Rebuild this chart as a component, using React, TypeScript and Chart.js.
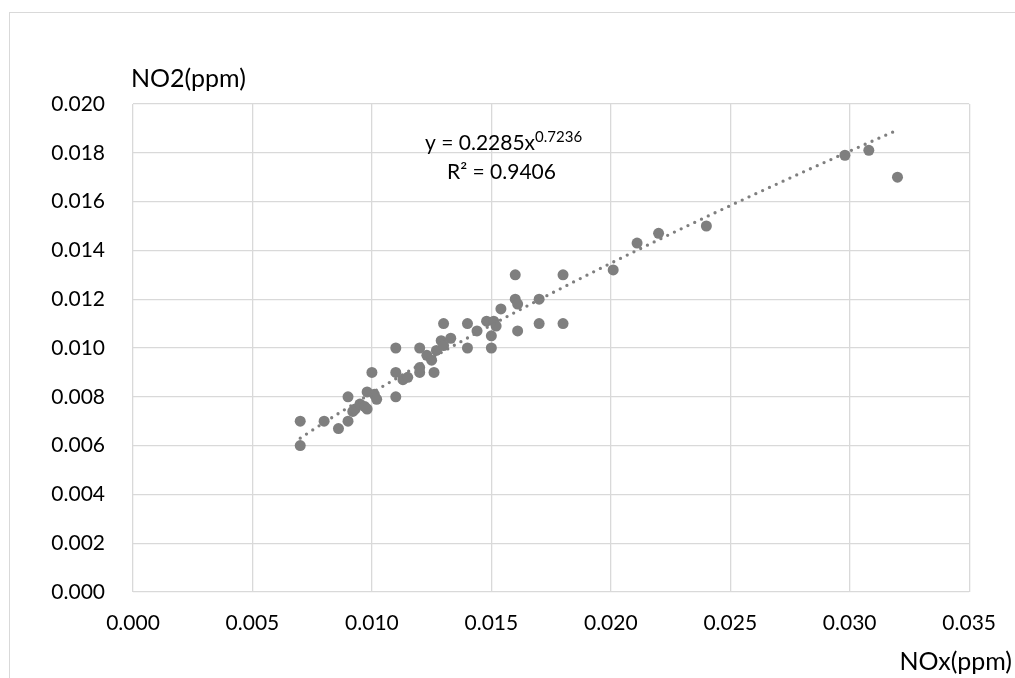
import React, { useEffect, useRef } from "react";
import { Chart, registerables } from "chart.js";

Chart.register(...registerables);

const noxValues: number[] = [
  0.007, 0.007, 0.008, 0.0086, 0.009, 0.009, 0.0092, 0.0093, 0.0095, 0.0097,
  0.0098, 0.0098, 0.010, 0.0101, 0.0102, 0.011, 0.011, 0.011, 0.0113, 0.0115,
  0.012, 0.012, 0.012, 0.0123, 0.0125, 0.0126, 0.0127, 0.0129, 0.013, 0.013,
  0.0133, 0.014, 0.014, 0.0144, 0.0148, 0.015, 0.015, 0.0151, 0.0152, 0.0154,
  0.016, 0.016, 0.0161, 0.0161, 0.017, 0.017, 0.018, 0.018, 0.0201, 0.0211,
  0.022, 0.024, 0.0298, 0.0308, 0.032,
];
const no2Values: number[] = [
  0.007, 0.006, 0.007, 0.0067, 0.007, 0.008, 0.0074, 0.0075, 0.0077, 0.0076,
  0.0075, 0.0082, 0.009, 0.0081, 0.0079, 0.008, 0.009, 0.010, 0.0087, 0.0088,
  0.009, 0.0092, 0.010, 0.0097, 0.0095, 0.009, 0.0099, 0.0103, 0.011, 0.0101,
  0.0104, 0.010, 0.011, 0.0107, 0.0111, 0.010, 0.0105, 0.0111, 0.0109, 0.0116,
  0.012, 0.013, 0.0118, 0.0107, 0.012, 0.011, 0.013, 0.011, 0.0132, 0.0143,
  0.0147, 0.015, 0.0179, 0.0181, 0.017,
];

const xTickValues: number[] = [0, 0.005, 0.01, 0.015, 0.02, 0.025, 0.03, 0.035];
const yTickValues: number[] = [0, 0.002, 0.004, 0.006, 0.008, 0.01, 0.012, 0.014, 0.016, 0.018, 0.02];

const trendCoef = 0.2285;
const trendExp = 0.7236;
const trendR2 = "0.9406";
const yAxisTitle = "NO2(ppm)";
const xAxisTitle = "NOx(ppm)";

const GRAY = "#7f7f7f";
const GRID = "#d9d9d9";
const FONT = "Lato";

export default function App() {
  const ref = useRef<HTMLCanvasElement | null>(null);

  useEffect(() => {
    if (!ref.current) return;
    const points = noxValues.map((x, i) => ({ x, y: no2Values[i] }));
    const xMin = Math.min(...noxValues);
    const xMax = Math.max(...noxValues);

    const decor = {
      id: "decor",
      beforeDraw(chart: any) {
        const ctx = chart.ctx;
        ctx.save();
        ctx.fillStyle = "#ffffff";
        ctx.fillRect(0, 0, chart.width, chart.height);
        ctx.strokeStyle = GRID;
        ctx.lineWidth = 1;
        ctx.strokeRect(9.5, 12.5, 3000, 3000);
        ctx.restore();
      },
      afterDatasetsDraw(chart: any) {
        const ctx = chart.ctx;
        const xs = chart.scales.x;
        const ys = chart.scales.y;
        // power trendline
        ctx.save();
        ctx.strokeStyle = GRAY;
        ctx.lineWidth = 3.3;
        ctx.lineCap = "round";
        ctx.setLineDash([0, 7.5]);
        ctx.beginPath();
        const steps = 200;
        for (let i = 0; i <= steps; i++) {
          const xv = xMin + ((xMax - xMin) * i) / steps;
          const yv = trendCoef * Math.pow(xv, trendExp);
          const px = xs.getPixelForValue(xv);
          const py = ys.getPixelForValue(yv);
          if (i === 0) ctx.moveTo(px, py);
          else ctx.lineTo(px, py);
        }
        ctx.stroke();
        ctx.restore();

        // texts
        ctx.save();
        ctx.fillStyle = "#000000";
        ctx.textBaseline = "alphabetic";
        ctx.font = `25px ${FONT}`;
        ctx.textAlign = "left";
        ctx.fillText(yAxisTitle, 131, 87);
        ctx.textAlign = "right";
        ctx.fillText(xAxisTitle, 1012, 670);

        ctx.font = `21px ${FONT}`;
        ctx.textAlign = "left";
        const eq = `y = ${trendCoef}x`;
        ctx.fillText(eq, 425, 150);
        const w = ctx.measureText(eq).width;
        ctx.font = `15px ${FONT}`;
        ctx.fillText(String(trendExp), 425 + w, 142);
        ctx.font = `21px ${FONT}`;
        ctx.fillText(`R² = ${trendR2}`, 447, 179);
        ctx.restore();
      },
    };

    const chart = new Chart(ref.current, {
      type: "scatter",
      data: {
        datasets: [
          {
            data: points,
            backgroundColor: GRAY,
            borderColor: GRAY,
            pointRadius: 5.5,
            pointHoverRadius: 5.5,
            borderWidth: 0,
          },
        ],
      },
      options: {
        responsive: false,
        animation: false,
        devicePixelRatio: 1,
        layout: { padding: { left: 0, right: 45, top: 104, bottom: 0 } },
        plugins: { legend: { display: false }, tooltip: { enabled: false } },
        scales: {
          x: {
            type: "linear",
            min: 0,
            max: 0.035,
            afterFit(scale: any) {
              scale.height = 86;
            },
            afterBuildTicks(scale: any) {
              scale.ticks = xTickValues.map((v) => ({ value: v }));
            },
            grid: { color: GRID, lineWidth: 1.3, drawTicks: false },
            border: { display: false },
            ticks: {
              padding: 19,
              color: "#000000",
              font: { family: FONT, size: 21 },
              maxRotation: 0,
              callback: (v: any) => Number(v).toFixed(3),
            },
          },
          y: {
            type: "linear",
            min: 0,
            max: 0.02,
            afterFit(scale: any) {
              scale.width = 133;
            },
            afterBuildTicks(scale: any) {
              scale.ticks = yTickValues.map((v) => ({ value: v }));
            },
            grid: { color: GRID, lineWidth: 1.3, drawTicks: false },
            border: { display: false },
            ticks: {
              padding: 28,
              color: "#000000",
              font: { family: FONT, size: 21 },
              callback: (v: any) => Number(v).toFixed(3),
            },
          },
        },
      },
      plugins: [decor],
    });
    return () => chart.destroy();
  }, []);

  return (
    <div style={{ position: "fixed", left: 0, top: 0, width: 1015, height: 678, background: "#fff" }}>
      <canvas ref={ref} width={1015} height={678} style={{ display: "block" }} />
    </div>
  );
}
